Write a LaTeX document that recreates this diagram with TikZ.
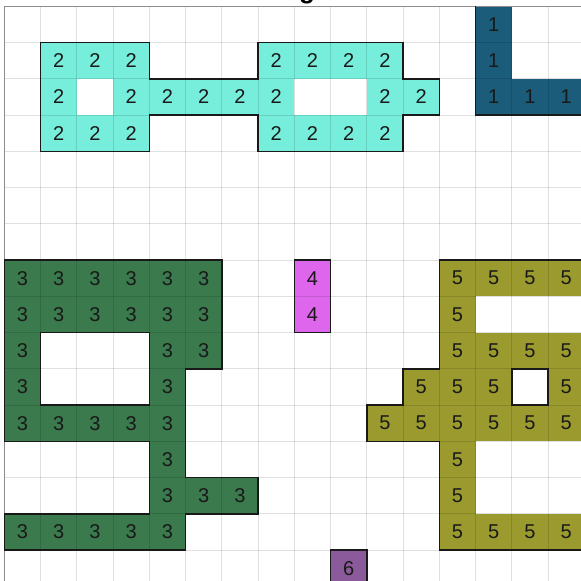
\documentclass[tikz,border=0pt]{standalone}
\usepackage{fontspec}
\setmainfont{Liberation Sans}
\definecolor{cone}{RGB}{27,92,122}
\definecolor{ctwo}{RGB}{118,238,219}
\definecolor{cthree}{RGB}{58,122,76}
\definecolor{cfour}{RGB}{221,102,236}
\definecolor{cfive}{RGB}{154,154,46}
\definecolor{csix}{RGB}{138,90,155}
\tikzset{
  cellnum/.style={font=\fontsize{20}{20}\selectfont, inner sep=0pt, text=black!90},
  gridline/.style={black, opacity=0.12, line width=0.8pt},
  frameline/.style={black!45, line width=1.2pt},
  outline/.style={black!90, line width=1.5pt, line join=miter},
}
\begin{document}
\begin{tikzpicture}[x=36.25pt,y=-36.25pt]
\useasboundingbox (-0.11862,-0.17379) rectangle (15.909,15.8538);
\clip (-0.11862,-0.17379) rectangle (15.909,15.8538);
\fill[white] (-0.11862,-0.17379) rectangle (15.909,15.8538);
% fills
\foreach \c/\r in {13/0,13/1,13/2,14/2,15/2}
  {\fill[cone] (\c,\r) rectangle ++(1,1);}
\foreach \c/\r in {1/1,2/1,3/1,7/1,8/1,9/1,10/1,1/2,3/2,4/2,5/2,6/2,7/2,10/2,11/2,1/3,2/3,3/3,7/3,8/3,9/3,10/3}
  {\fill[ctwo] (\c,\r) rectangle ++(1,1);}
\foreach \c/\r in {0/7,1/7,2/7,3/7,4/7,5/7,0/8,1/8,2/8,3/8,4/8,5/8,0/9,4/9,5/9,0/10,4/10,0/11,1/11,2/11,3/11,4/11,4/12,4/13,5/13,6/13,0/14,1/14,2/14,3/14,4/14}
  {\fill[cthree] (\c,\r) rectangle ++(1,1);}
\foreach \c/\r in {8/7,8/8}
  {\fill[cfour] (\c,\r) rectangle ++(1,1);}
\foreach \c/\r in {12/7,13/7,14/7,15/7,12/8,12/9,13/9,14/9,15/9,11/10,12/10,13/10,15/10,10/11,11/11,12/11,13/11,14/11,15/11,12/12,12/13,12/14,13/14,14/14,15/14}
  {\fill[cfive] (\c,\r) rectangle ++(1,1);}
\foreach \c/\r in {9/15}
  {\fill[csix] (\c,\r) rectangle ++(1,1);}
% grid
\foreach \k in {1,...,16} {
  \draw[gridline] (\k,0) -- (\k,17);
  \draw[gridline] (0,\k) -- (17,\k);
}
\draw[frameline] (0,17) -- (0,0) -- (17,0);
% outlines
\draw[outline] (13,0) -- (13,3) -- (17,3);
\draw[outline] (1,1) -- (4,1) -- (4,2) -- (7,2) -- (7,1) -- (11,1) -- (11,2) -- (12,2) -- (12,3) -- (11,3) -- (11,4) -- (7,4) -- (7,3) -- (4,3) -- (4,4) -- (1,4) -- cycle;
\draw[outline] (0,7) -- (6,7) -- (6,10) -- (5,10) -- (5,13) -- (7,13) -- (7,14) -- (5,14) -- (5,15) -- (0,15) -- (0,14) -- (4,14) -- (4,12) -- (0,12) -- cycle;
\draw[outline] (1,9) rectangle (4,11);
\draw[outline] (8,7) rectangle (9,9);
\draw[outline] (17,7) -- (12,7) -- (12,10) -- (11,10) -- (11,11) -- (10,11) -- (10,12) -- (12,12) -- (12,15) -- (17,15);
\draw[outline] (14,10) rectangle (15,11);
\draw[outline] (9,15) rectangle (10,16);
% numbers
\foreach \c/\r in {13/0,13/1,13/2,14/2,15/2}
  {\node[cellnum] (one-\c-\r) at (\c+0.5,\r+0.5) {1};}
\foreach \c/\r in {1/1,2/1,3/1,7/1,8/1,9/1,10/1,1/2,3/2,4/2,5/2,6/2,7/2,10/2,11/2,1/3,2/3,3/3,7/3,8/3,9/3,10/3}
  {\node[cellnum] (two-\c-\r) at (\c+0.5,\r+0.5) {2};}
\foreach \c/\r in {0/7,1/7,2/7,3/7,4/7,5/7,0/8,1/8,2/8,3/8,4/8,5/8,0/9,4/9,5/9,0/10,4/10,0/11,1/11,2/11,3/11,4/11,4/12,4/13,5/13,6/13,0/14,1/14,2/14,3/14,4/14}
  {\node[cellnum] (three-\c-\r) at (\c+0.5,\r+0.5) {3};}
\foreach \c/\r in {8/7,8/8}
  {\node[cellnum] (four-\c-\r) at (\c+0.5,\r+0.5) {4};}
\foreach \c/\r in {12/7,13/7,14/7,15/7,12/8,12/9,13/9,14/9,15/9,11/10,12/10,13/10,15/10,10/11,11/11,12/11,13/11,14/11,15/11,12/12,12/13,12/14,13/14,14/14,15/14}
  {\node[cellnum] (five-\c-\r) at (\c+0.5,\r+0.5) {5};}
\foreach \c/\r in {9/15}
  {\node[cellnum] (six-\c-\r) at (\c+0.5,\r+0.5) {6};}
% title fragment
\node[font=\bfseries\fontsize{26}{26}\selectfont, anchor=base, inner sep=0pt] (title) at (8.35,-0.215) {g};
\end{tikzpicture}
\end{document}
